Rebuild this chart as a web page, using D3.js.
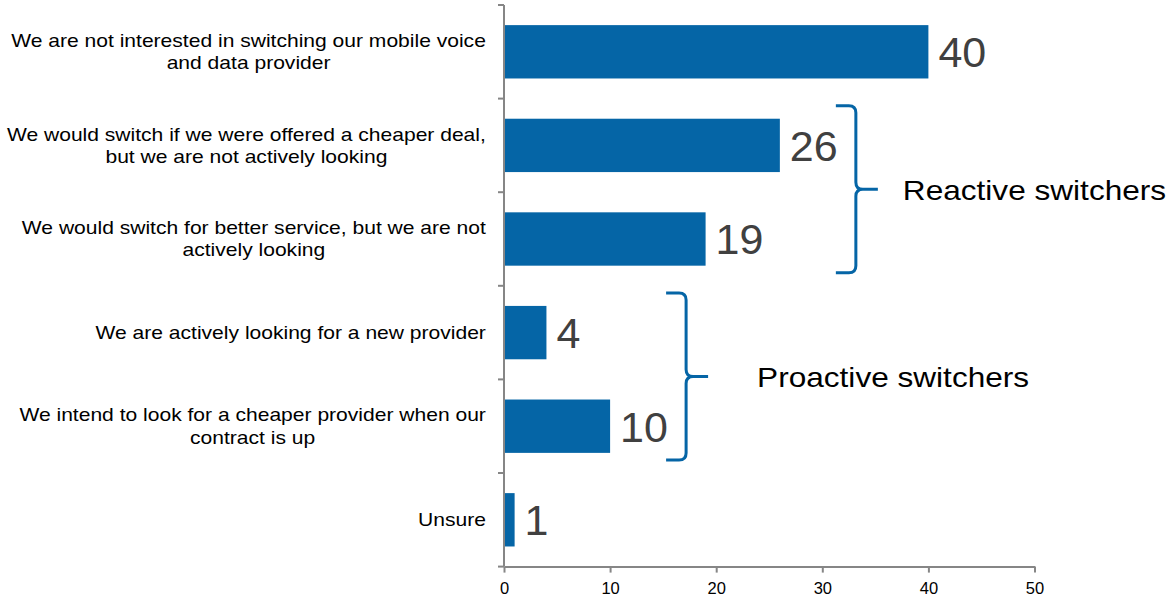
<!DOCTYPE html>
<html>
<head>
<meta charset="utf-8">
<script src="https://cdn.jsdelivr.net/npm/d3@7"></script>
<style>
  html, body { margin: 0; padding: 0; background: #fff; }
  svg { display: block; font-family: "Liberation Sans", Arial, Helvetica, sans-serif; }
</style>
</head>
<body>
<svg id="chart" width="1167" height="599"></svg>
<script>
// Survey responses (% of respondents)
const categories = [
  ["We are not interested in switching our mobile voice", "and data provider"],
  ["We would switch if we were offered a cheaper deal,", "but we are not actively looking"],
  ["We would switch for better service, but we are not", "actively looking"],
  ["We are actively looking for a new provider"],
  ["We intend to look for a cheaper provider when our", "contract is up"],
  ["Unsure"]
];
const values = [40, 26, 19, 4, 10, 1];
const xTicks = [0, 10, 20, 30, 40, 50];

// Groupings marked with a brace: first and last category index
const groupLabels = ["Reactive switchers", "Proactive switchers"];
const groupStart = [1, 3];
const groupEnd = [2, 4];

const barColor = "#0565a6";
const axisColor = "#868686";
const stretch = 1.17; // wide-set text face

const svg = d3.select("#chart");
const keys = categories.map((c, i) => i);

const top0 = 5, bottom0 = 566.6;
const x = d3.scaleLinear().domain([0, 50]).range([504, 1034.5]);
const y = d3.scaleBand().domain(keys).range([top0, bottom0]).paddingInner(0.43).paddingOuter(0.215);

// Bars
svg.append("g").selectAll("rect")
  .data(keys)
  .join("rect")
  .attr("x", x(0))
  .attr("y", d => y(d))
  .attr("width", d => x(values[d]) - x(0))
  .attr("height", y.bandwidth())
  .attr("fill", barColor);

// Value labels
svg.append("g").selectAll("text")
  .data(keys)
  .join("text")
  .attr("x", d => x(values[d]) + 10)
  .attr("y", d => y(d) + y.bandwidth() / 2)
  .attr("dy", "0.36em")
  .attr("font-size", 43)
  .attr("fill", "#404040")
  .text(d => values[d]);

// X axis
const xAxis = svg.append("g")
  .attr("transform", `translate(0,${bottom0})`)
  .call(d3.axisBottom(x).tickValues(xTicks).tickSize(6).tickSizeOuter(0));
xAxis.select(".domain").attr("stroke", axisColor).attr("stroke-width", 2);
xAxis.selectAll(".tick line").attr("stroke", axisColor).attr("stroke-width", 2);
xAxis.selectAll(".tick text").attr("font-size", 16.5).attr("fill", "#000").attr("dy", "1.09em")
  .attr("font-family", "Liberation Sans, Arial, sans-serif");

// Y axis with ticks on category boundaries
const n = categories.length;
svg.append("line")
  .attr("x1", x(0)).attr("x2", x(0))
  .attr("y1", top0).attr("y2", bottom0)
  .attr("stroke", axisColor).attr("stroke-width", 2);
svg.append("g").selectAll("line")
  .data(d3.range(n + 1))
  .join("line")
  .attr("x1", x(0) - 6).attr("x2", x(0))
  .attr("y1", i => top0 + i * y.step())
  .attr("y2", i => top0 + i * y.step())
  .attr("stroke", axisColor).attr("stroke-width", 2);

// Category labels: lines centred on each other, block right-aligned
const labelRight = 486;
const lineH = 22;
const catG = svg.append("g").attr("font-size", 18).attr("fill", "#000");
keys.forEach(k => {
  const lines = categories[k];
  const g = catG.append("g");
  const texts = lines.map((ln, j) => g.append("text")
    .attr("x", 0)
    .attr("y", y(k) + y.bandwidth() / 2 + (j - (lines.length - 1) / 2) * lineH)
    .attr("dy", "0.35em")
    .attr("text-anchor", "middle")
    .text(ln));
  const w = d3.max(texts, t => t.node().getComputedTextLength()) * stretch;
  g.attr("transform", `translate(${labelRight - w / 2},0) scale(${stretch},1)`);
});

// Group braces with labels
const brace = (x0, xs, xt, top, bottom, mid, r) => {
  const p = d3.path();
  p.moveTo(x0, top);
  p.lineTo(xs - r, top);
  p.quadraticCurveTo(xs, top, xs, top + r);
  p.lineTo(xs, mid - r);
  p.quadraticCurveTo(xs, mid, xs + r, mid);
  p.lineTo(xt, mid);
  p.moveTo(xs + r, mid);
  p.quadraticCurveTo(xs, mid, xs, mid + r);
  p.lineTo(xs, bottom - r);
  p.quadraticCurveTo(xs, bottom, xs - r, bottom);
  p.lineTo(x0, bottom);
  return p.toString();
};

groupLabels.forEach((lab, gi) => {
  const idx = d3.range(groupStart[gi], groupEnd[gi] + 1);
  const maxV = d3.max(idx, i => values[i]);
  const x0 = x(maxV) + 56;
  const xs = x0 + 20;
  const xt = xs + 22;
  const top = y(groupStart[gi]) - 13;
  const bottom = y(groupEnd[gi]) + y.bandwidth() + 7;
  const mid = (top + bottom) / 2;
  svg.append("path")
    .attr("d", brace(x0, xs, xt, top, bottom, mid, 7))
    .attr("fill", "none")
    .attr("stroke", barColor)
    .attr("stroke-width", 3);
  svg.append("g")
    .attr("transform", `translate(${xt + (gi === 0 ? 25 : 49)},${mid + 1}) scale(${stretch},1)`)
    .append("text")
    .attr("dy", "0.35em")
    .attr("font-size", 27)
    .attr("fill", "#000")
    .text(lab);
});
</script>
</body>
</html>
